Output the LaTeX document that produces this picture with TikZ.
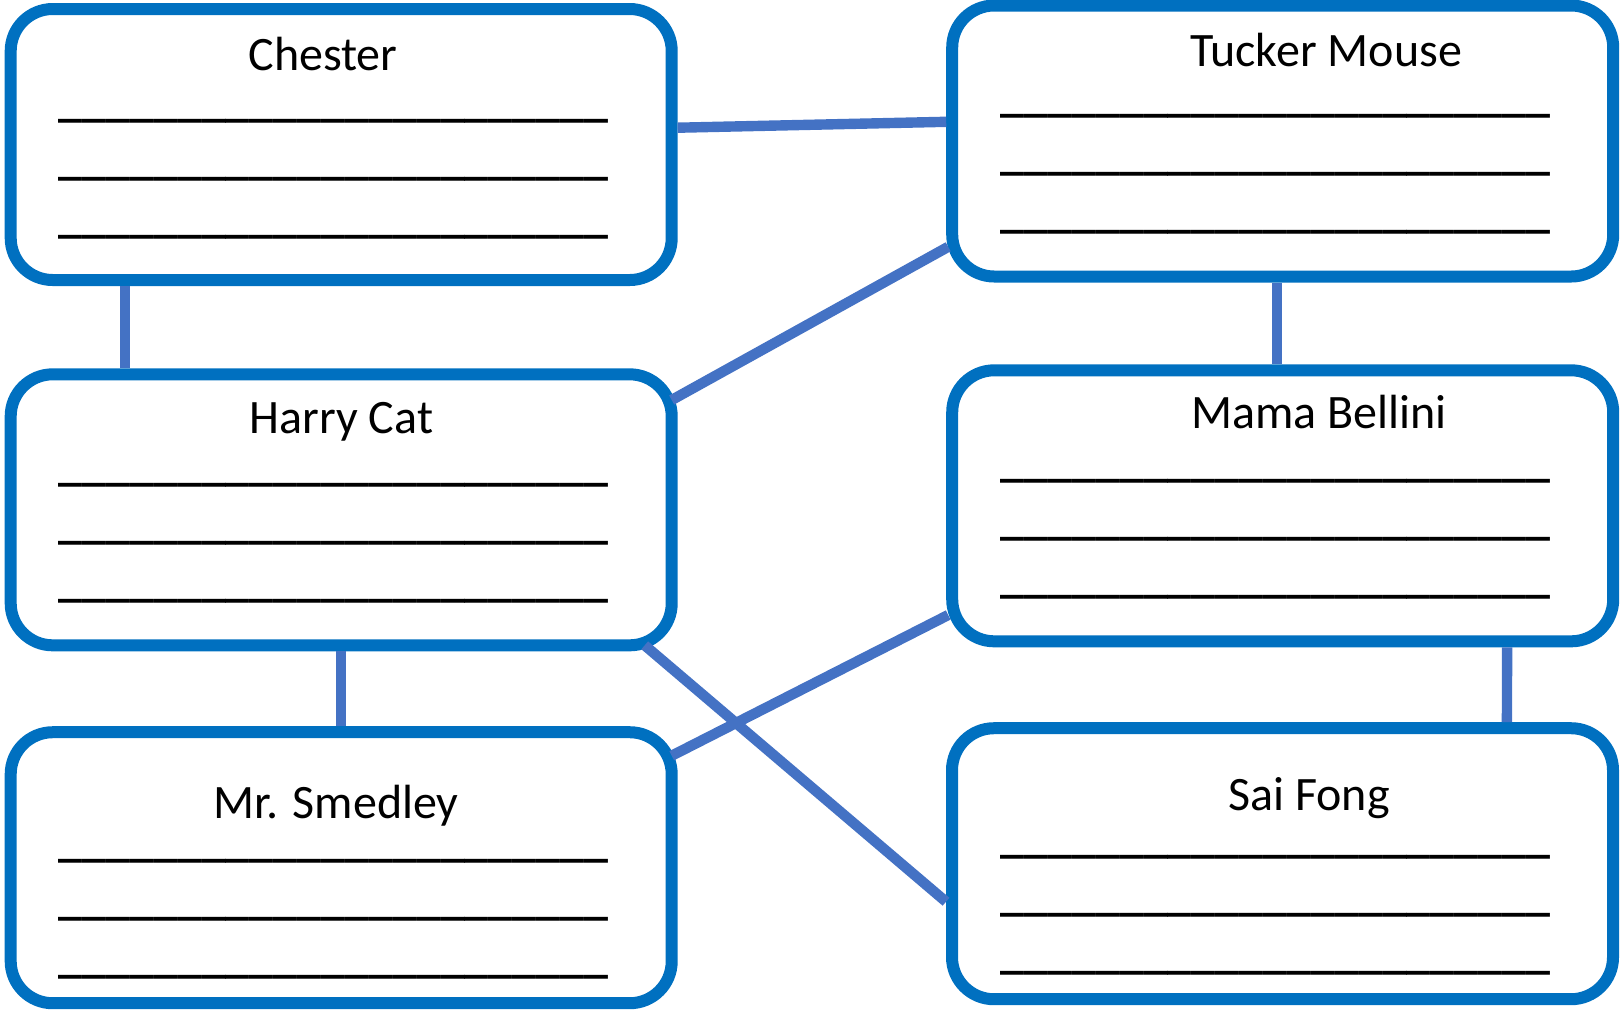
\documentclass[tikz,border=0pt]{standalone}
\usepackage{fontspec}
\setmainfont{Carlito}
\definecolor{bleu}{RGB}{0,112,192}
\definecolor{bleulien}{RGB}{68,114,196}
\newcommand\traits{\_\_\_\_\_\_\_\_\_\_\_\_\_\_\_\_\_\_\_\_\_\_\_}

\begin{document}
\begin{tikzpicture}[x=0.5pt,y=-0.5pt,
  cadre/.style={draw=bleu,line width=6pt,rounded corners=21pt,fill=white,
    minimum width=330.5pt,minimum height=135.5pt},
  nom/.style={anchor=base,inner sep=0pt,font=\fontsize{24}{28}\selectfont},
  ligne/.style={nom,text height=0pt,font=\fontsize{24}{28}\selectfont\bfseries},
  lien/.style={draw=bleulien,line width=5.2pt}]
\useasboundingbox (0,0) rectangle (1620,1009);

% les cadres
\foreach \n/\x/\y in {chester/341.2/144.5,harry/341.2/509.8,smedley/341.2/867.7,
    tucker/1282.7/141,mama/1282.7/505.8,saifong/1282.5/863.7}
    \node[cadre] (\n) at (\x,\y) {};

% les noms
\foreach \n/\x/\y/\t in {chester/323/70.7/Chester,harry/341.5/433.3/Harry Cat,
    smedley/336/818/Mr. Smedley,tucker/1326/66/Tucker Mouse,
    mama/1319/428.7/Mama Bellini,saifong/1309/810.7/Sai Fong}
    \node[nom] (\n-nom) at (\x,\y) {\t};

% les lignes a remplir
\foreach \n/\x/\y in {chester/333.5/116,harry/333.5/480,smedley/333.5/856.3,
    tucker/1275.5/111.3,mama/1275.5/476.3,saifong/1275.5/852}
    \foreach \k in {0,1,2}
    \node[ligne] (\n-\k) at (\x,\y+58*\k) {\traits};

% les liens
\draw[lien] ([yshift=8.4pt]chester.east) -- ([yshift=9.6pt]tucker.west);
\draw[lien] ([xshift=-108.2pt]chester.south) -- ([xshift=-108.2pt]harry.north);
\draw[lien] ([xshift=-3pt,yshift=54.9pt]harry.east) -- ([xshift=1pt,yshift=-52.9pt]tucker.west);
\draw[lien] (harry.south) -- (smedley.north);
\draw[lien] ([xshift=-16.5pt,yshift=3pt]harry.south east) -- ([yshift=-19pt]saifong.west);
\draw[lien] ([xshift=-3pt,yshift=56pt]smedley.east) -- ([xshift=1pt,yshift=-54.6pt]mama.west);
\draw[lien] ([xshift=-2.85pt]tucker.south) -- ([xshift=-2.85pt]mama.north);
\draw[lien] ([xshift=112.2pt]mama.south) -- ([xshift=112.2pt]saifong.north);
\end{tikzpicture}
\end{document}
